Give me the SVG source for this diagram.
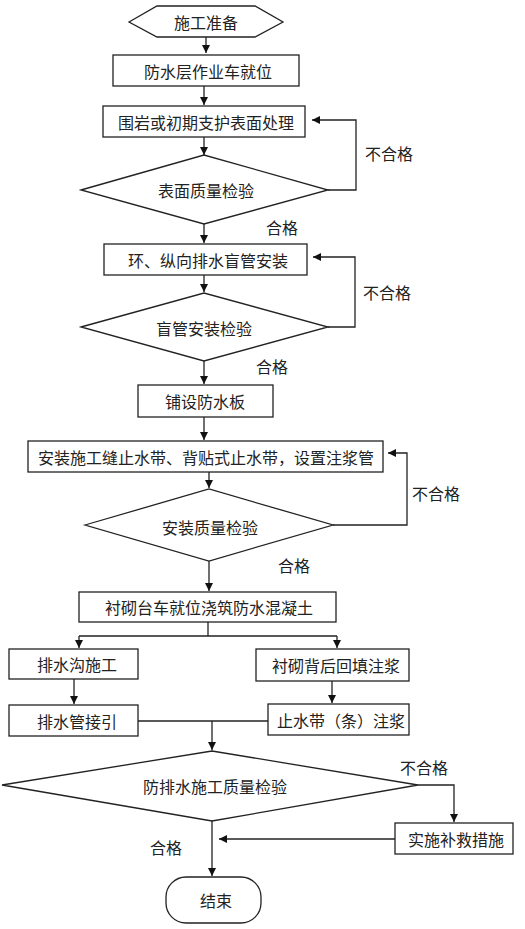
<svg xmlns="http://www.w3.org/2000/svg" width="525" height="929" viewBox="0 0 525 929">
<style>
.s{fill:#fff;stroke:#222;stroke-width:1.3}
.t{font-family:"Noto Sans CJK SC","Liberation Serif",sans-serif;font-size:16px;fill:#222;text-anchor:middle;dominant-baseline:central}
.c{fill:none;stroke:#222;stroke-width:1.3}
.a{marker-end:url(#ah)}
</style>
<defs>
<marker id="ah" markerUnits="userSpaceOnUse" viewBox="0 0 8 8" refX="8" refY="4" markerWidth="8" markerHeight="8" orient="auto">
<path d="M0,0 L8,4 L0,8 z" fill="#111"/>
</marker>
</defs>
<g id="connectors">
<path class="c a" d="M206,37 V53"/>
<path class="c a" d="M204,86 V105"/>
<path class="c a" d="M204,137 V155"/>
<path class="c a" d="M328,190 H356 V120 H312"/>
<path class="c a" d="M204,224 V243"/>
<path class="c a" d="M328,327 H355 V257 H313"/>
<path class="c a" d="M204,275 V292"/>
<path class="c a" d="M204,361 V384"/>
<path class="c a" d="M204,417 V440"/>
<path class="c a" d="M333,525 H407 V453 H388"/>
<path class="c a" d="M209,472 V488"/>
<path class="c a" d="M209,561 V591"/>
<path class="c" d="M208,622 V636 M79,636 H337"/>
<path class="c a" d="M79,636 V648"/>
<path class="c a" d="M337,636 V648"/>
<path class="c a" d="M74,679 V704"/>
<path class="c a" d="M332,681 V703"/>
<path class="c" d="M138,721 H268"/>
<path class="c a" d="M212,721 V750"/>
<path class="c a" d="M418,785 H454 V822"/>
<path class="c a" d="M395,839 H219"/>
<path class="c a" d="M212,821 V876"/>
</g>
<g id="n1"><polygon class="s" points="129,22 157,6 255,6 283,22 255,37 157,37"/><text class="t" x="206" y="22">施工准备</text></g>
<g id="n2"><rect class="s" x="113" y="55" width="186" height="31"/><text class="t" x="208" y="71">防水层作业车就位</text></g>
<g id="n3"><rect class="s" x="103" y="106" width="202" height="31"/><text class="t" x="206" y="122">围岩或初期支护表面处理</text></g>
<g id="n4"><polygon class="s" points="81,190 204,155 328,190 204,224"/><text class="t" x="206" y="190">表面质量检验</text></g>
<g id="n5"><rect class="s" x="104" y="244" width="203" height="31"/><text class="t" x="208" y="260">环、纵向排水盲管安装</text></g>
<g id="n6"><polygon class="s" points="81,327 204,293 328,327 204,361"/><text class="t" x="204" y="328">盲管安装检验</text></g>
<g id="n7"><rect class="s" x="138" y="385" width="135" height="32"/><text class="t" x="205" y="401">铺设防水板</text></g>
<g id="n8"><rect class="s" x="28" y="441" width="355" height="31"/><text class="t" x="206" y="457">安装施工缝止水带、背贴式止水带，设置注浆管</text></g>
<g id="n9"><polygon class="s" points="85,525 209,489 333,525 209,561"/><text class="t" x="210" y="527">安装质量检验</text></g>
<g id="n10"><rect class="s" x="79" y="592" width="257" height="30"/><text class="t" x="209" y="607">衬砌台车就位浇筑防水混凝土</text></g>
<g id="n11"><rect class="s" x="9" y="649" width="129" height="30"/><text class="t" x="77" y="664">排水沟施工</text></g>
<g id="n12"><rect class="s" x="256" y="649" width="153" height="32"/><text class="t" x="336" y="665">衬砌背后回填注浆</text></g>
<g id="n13"><rect class="s" x="9" y="705" width="129" height="31"/><text class="t" x="77" y="721">排水管接引</text></g>
<g id="n14"><rect class="s" x="268" y="704" width="141" height="31"/><text class="t" x="341" y="720">止水带（条）注浆</text></g>
<g id="n15"><polygon class="s" points="2,785 212,751 418,785 212,821"/><text class="t" x="215" y="786">防排水施工质量检验</text></g>
<g id="n16"><rect class="s" x="395" y="823" width="118" height="31"/><text class="t" x="456" y="839">实施补救措施</text></g>
<g id="n17"><rect class="s" x="166" y="877" width="95" height="46" rx="20" ry="20"/><text class="t" x="216" y="900">结束</text></g>
<g id="labels">
<text class="t" x="389" y="153">不合格</text>
<text class="t" x="282" y="227">合格</text>
<text class="t" x="387" y="292">不合格</text>
<text class="t" x="272" y="366">合格</text>
<text class="t" x="436" y="493">不合格</text>
<text class="t" x="294" y="565">合格</text>
<text class="t" x="424" y="767">不合格</text>
<text class="t" x="166" y="847">合格</text>
</g>
</svg>
